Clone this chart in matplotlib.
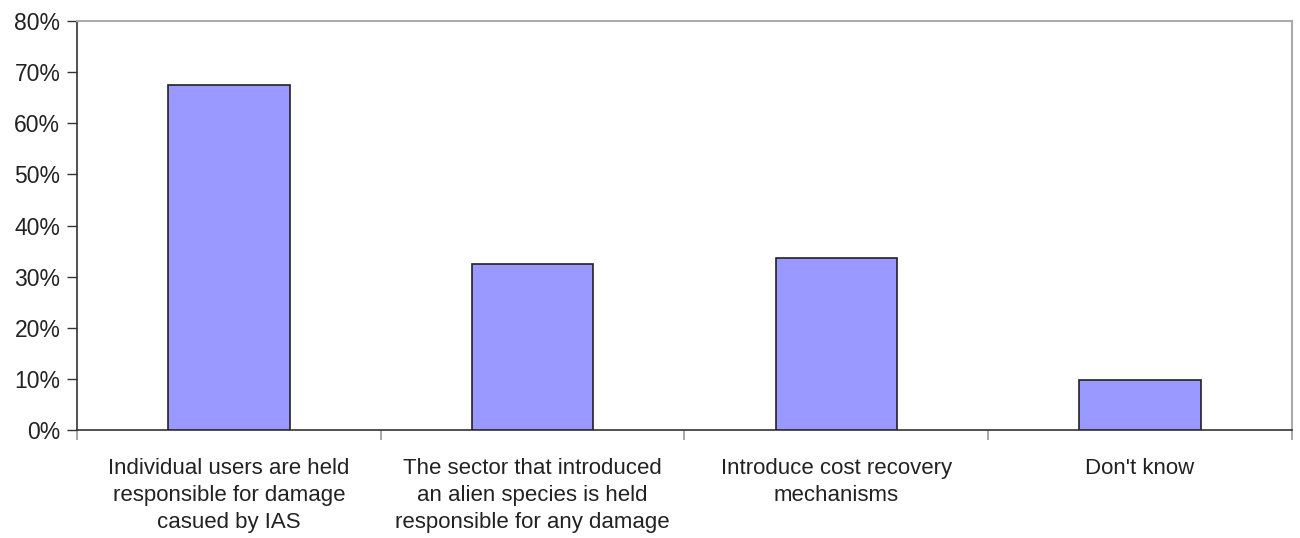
import matplotlib.pyplot as plt
from matplotlib.ticker import FuncFormatter

# 数据
categories = ['Individual users are held\nresponsible for damage\ncasued by IAS',
              'The sector that introduced\nan alien species is held\nresponsible for any damage',
              'Introduce cost recovery\nmechanisms',
              "Don't know"]
values = [67.4, 32.5, 33.7, 9.8]
yticks = [0, 10, 20, 30, 40, 50, 60, 70, 80]

plt.rcParams['font.family'] = ['Liberation Sans', 'DejaVu Sans']
txt = '#222222'

fig = plt.figure(figsize=(13, 5.38), dpi=100)
ax = fig.add_axes([0.0592, 0.2002, 0.9346, 0.7608])

pos = [i + 0.5 for i in range(len(categories))]
ax.bar(pos, values, width=0.4, color='#9999FF', edgecolor='#222222', linewidth=1.2, zorder=3)

ax.set_xlim(0, len(categories))
ax.set_ylim(0, 80)
ax.set_yticks(yticks)
ax.yaxis.set_major_formatter(FuncFormatter(lambda v, p: '%d%%' % v))
ax.tick_params(axis='y', length=7, width=1, color='#333333', labelsize=16.5, labelcolor=txt, pad=5)

# 分类边界刻度 + 居中标签
ax.set_xticks(range(len(categories) + 1))
ax.set_xticklabels([''] * (len(categories) + 1))
ax.tick_params(axis='x', which='major', length=7, width=1.2, color='#999999')
ax.set_xticks(pos, minor=True)
ax.set_xticklabels(categories, minor=True, fontsize=16, color=txt, linespacing=1.38)
ax.tick_params(axis='x', which='minor', length=0, pad=20)

for s in ['left', 'bottom']:
    ax.spines[s].set_color('#333333')
    ax.spines[s].set_linewidth(1.2)
for s in ['top', 'right']:
    ax.spines[s].set_color('#AAAAAA')
    ax.spines[s].set_linewidth(1.5)

plt.savefig('out.png', dpi=100)
